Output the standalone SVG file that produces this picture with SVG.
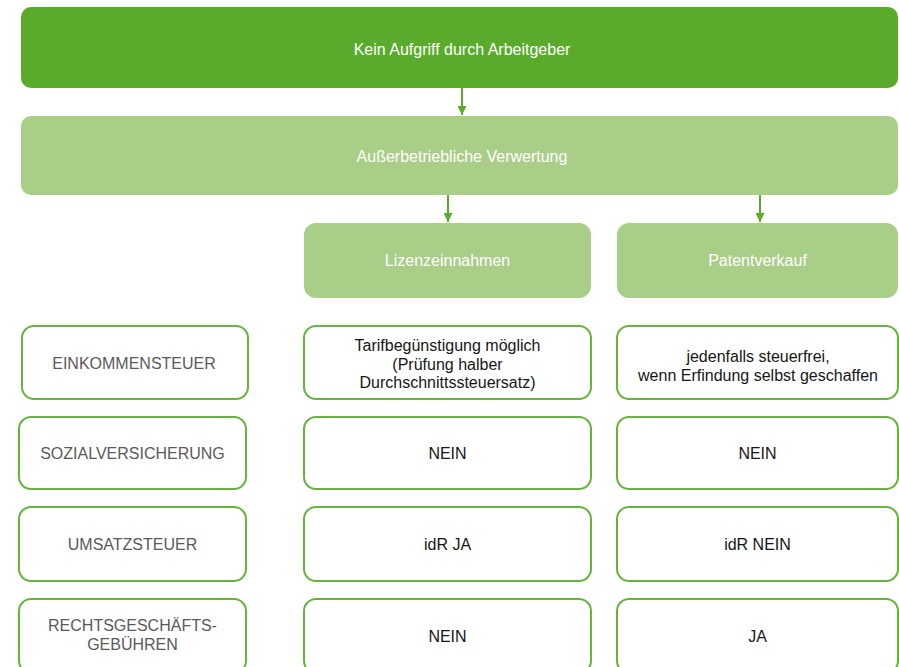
<svg xmlns="http://www.w3.org/2000/svg" width="899" height="667" viewBox="0 0 899 667">
<style>
text{font-family:"Liberation Sans",Arial,sans-serif;font-size:16px;text-anchor:middle}
.dark{fill:#5aaa2b}
.light{fill:#a9ce87}
.cell{fill:#fff;stroke:#66b33e;stroke-width:2}
.w{fill:#fff}
.lab{fill:#5a5a5a}
.val{fill:#161616}
.conn{stroke:#5aaa2b;stroke-width:2;fill:none}
</style>
<defs>
<marker id="ah" viewBox="0 0 10 10" refX="10" refY="5" markerWidth="4.5" markerHeight="4.5" orient="auto" markerUnits="strokeWidth">
<path d="M0,0 L10,5 L0,10 z" fill="#5aaa2b"/>
</marker>
</defs>
<rect width="899" height="667" fill="#fff"/>
<g id="n-kein"><rect class="dark" x="21" y="7" width="877" height="81" rx="10"/><text class="w" x="462" y="54.5">Kein Aufgriff durch Arbeitgeber</text></g>
<g id="n-ausser"><rect class="light" x="21" y="116" width="877" height="79" rx="10"/><text class="w" x="462" y="162">Außerbetriebliche Verwertung</text></g>
<g id="n-lizenz"><rect class="light" x="304" y="223" width="287" height="75" rx="12"/><text class="w" x="447.5" y="266">Lizenzeinnahmen</text></g>
<g id="n-patent"><rect class="light" x="617" y="223" width="281" height="75" rx="12"/><text class="w" x="757.5" y="266">Patentverkauf</text></g>

<g id="n-est"><rect class="cell" x="22" y="326" width="226" height="73" rx="12"/><text class="lab" x="134" y="369">EINKOMMENSTEUER</text></g>
<g id="n-sv"><rect class="cell" x="19" y="417" width="227" height="72" rx="12"/><text class="lab" x="132.5" y="459">SOZIALVERSICHERUNG</text></g>
<g id="n-ust"><rect class="cell" x="19" y="507" width="227" height="74" rx="12"/><text class="lab" x="132.5" y="550">UMSATZSTEUER</text></g>
<g id="n-rg"><rect class="cell" x="19" y="599" width="227" height="74" rx="12"/><text class="lab" x="132.5" y="631">RECHTSGESCHÄFTS-</text><text class="lab" x="132.5" y="650">GEBÜHREN</text></g>

<g id="n-l-est"><rect class="cell" x="304" y="326" width="287" height="73" rx="12"/><text class="val" x="447.5" y="351">Tarifbegünstigung möglich</text><text class="val" x="447.5" y="369.5">(Prüfung halber</text><text class="val" x="447.5" y="388">Durchschnittssteuersatz)</text></g>
<g id="n-l-sv"><rect class="cell" x="304" y="417" width="287" height="72" rx="12"/><text class="val" x="447.5" y="459">NEIN</text></g>
<g id="n-l-ust"><rect class="cell" x="304" y="507" width="287" height="74" rx="12"/><text class="val" x="447.5" y="550">idR JA</text></g>
<g id="n-l-rg"><rect class="cell" x="304" y="599" width="287" height="74" rx="12"/><text class="val" x="447.5" y="641.5">NEIN</text></g>

<g id="n-p-est"><rect class="cell" x="617" y="326" width="281" height="73" rx="12"/><text class="val" x="758" y="362">jedenfalls steuerfrei,</text><text class="val" x="758" y="380.5">wenn Erfindung selbst geschaffen</text></g>
<g id="n-p-sv"><rect class="cell" x="617" y="417" width="281" height="72" rx="12"/><text class="val" x="757.5" y="459">NEIN</text></g>
<g id="n-p-ust"><rect class="cell" x="617" y="507" width="281" height="74" rx="12"/><text class="val" x="757.5" y="550">idR NEIN</text></g>
<g id="n-p-rg"><rect class="cell" x="617" y="599" width="281" height="74" rx="12"/><text class="val" x="757.5" y="641.5">JA</text></g>

<g id="connectors">
<line class="conn" x1="462" y1="88" x2="462" y2="115" marker-end="url(#ah)"/>
<line class="conn" x1="448" y1="195" x2="448" y2="222" marker-end="url(#ah)"/>
<line class="conn" x1="760" y1="195" x2="760" y2="222" marker-end="url(#ah)"/>
</g>
</svg>
